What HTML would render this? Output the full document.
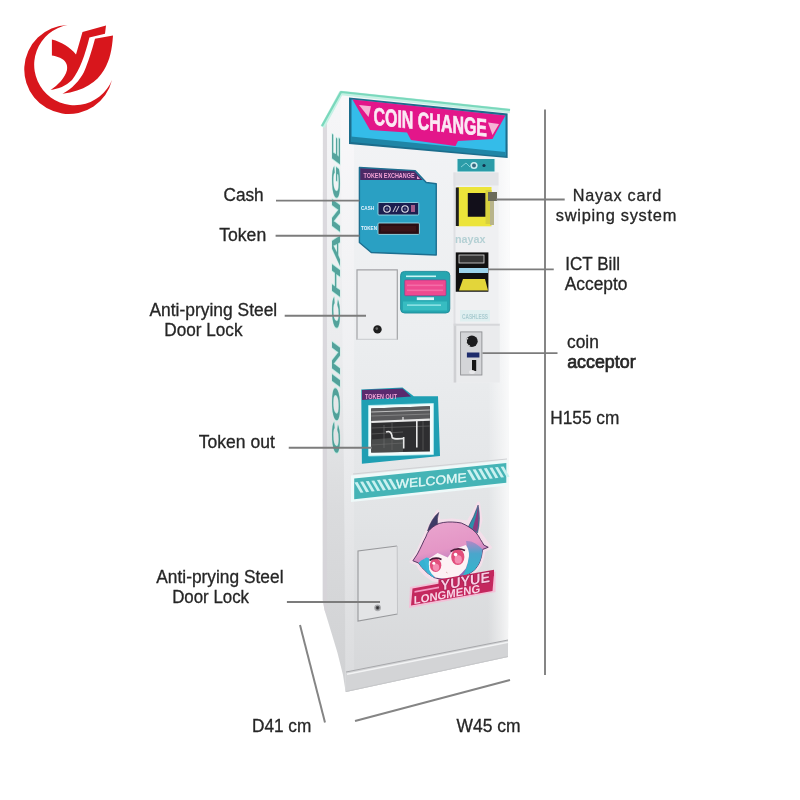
<!DOCTYPE html>
<html><head><meta charset="utf-8">
<style>
html,body{margin:0;padding:0;background:#fff;width:800px;height:800px;overflow:hidden}
svg{display:block;filter:blur(0.45px)}
text{font-family:"Liberation Sans",sans-serif}
</style></head>
<body>
<svg width="800" height="800" viewBox="0 0 800 800">
<defs>
  <linearGradient id="frontG" x1="0" y1="0" x2="0" y2="1">
    <stop offset="0" stop-color="#f3f4f6"/>
    <stop offset="0.4" stop-color="#eceef0"/>
    <stop offset="0.7" stop-color="#e2e4e6"/>
    <stop offset="1" stop-color="#d5d6d8"/>
  </linearGradient>
  <linearGradient id="sideG" x1="0" y1="0" x2="0" y2="1">
    <stop offset="0" stop-color="#f6f6f8"/>
    <stop offset="0.45" stop-color="#eaebed"/>
    <stop offset="0.7" stop-color="#dadbdd"/>
    <stop offset="1" stop-color="#d0d1d3"/>
  </linearGradient>
  <linearGradient id="rightHL" x1="0" y1="0" x2="1" y2="0">
    <stop offset="0" stop-color="#ffffff" stop-opacity="0"/>
    <stop offset="0.6" stop-color="#ffffff" stop-opacity="0.45"/>
    <stop offset="1" stop-color="#ffffff" stop-opacity="0.8"/>
  </linearGradient>
  <linearGradient id="bevelG" x1="0" y1="0" x2="0" y2="1">
    <stop offset="0" stop-color="#f9f8fa"/>
    <stop offset="0.5" stop-color="#eeeff1"/>
    <stop offset="1" stop-color="#dadbdd"/>
  </linearGradient>
  <linearGradient id="hairG" x1="0" y1="0" x2="0" y2="1">
    <stop offset="0" stop-color="#ef9ccb"/>
    <stop offset="0.5" stop-color="#d77bc0"/>
    <stop offset="0.75" stop-color="#5aa9d6"/>
    <stop offset="1" stop-color="#2fb3c4"/>
  </linearGradient>
</defs>

<!-- ===== LOGO ===== -->
<g fill="#d8161c">
  <path d="M67.5,25 A44.5,44.5 0 1 0 112,80 A40.4,40.4 0 1 1 67.5,25 Z"/>
  <path d="M51.9,39.4 C62,42 70,47 76,54.4 L82.5,31.9 L106,25.6 L105,33.8 L89.4,37.5 C85,55 80,70 72,80 C66,86 58,89 50.6,90 C58,85 65,78 67,70 C68,64 65,60 60,57.8 C57,56.5 54,55.8 51.9,55.4 Z"/>
  <path d="M95,38.75 L113,35.6 C112,50 110,60 104,70 C97,82 84,91 62.5,93.75 C72,89 80,80 84,72 C88,63 92,50 95,38.75 Z"/>
</g>

<!-- ===== DIMENSION LINES ===== -->
<g stroke="#858585" stroke-width="2" fill="none">
  <line x1="545" y1="109.5" x2="545" y2="675"/>
  <line x1="300" y1="625" x2="325" y2="722.5"/>
  <line x1="355" y1="721" x2="510" y2="680"/>
</g>

<!-- ===== MACHINE ===== -->
<g id="machine">
  <!-- side face -->
  <polygon points="322.5,127 341,93 347,94 347,692 345.5,691 343,675 337.4,652.5 330.6,630 324.5,610 322.8,600" fill="url(#sideG)"/>
  <polygon points="323,126 327,120 327,615 324.5,610 322.8,600" fill="#d6d3d8" opacity="0.8"/>
  <!-- front face -->
  <polygon points="341,93 510,110.5 508,657 345.5,692" fill="url(#frontG)"/>
  <polygon points="488,109 510,111 508,657 488,661" fill="url(#rightHL)"/>
  <!-- left bevel highlight -->
  <polygon points="340.5,94 354,95.5 354,686 345.5,692 345,530 343,400" fill="url(#bevelG)"/>
  <!-- top rim -->
  <polyline points="322.5,127 341,93 510,111" stroke="#c4f1e4" stroke-width="4.5" stroke-linejoin="round" fill="none"/>
  <polyline points="322,126 341,92 510,110" stroke="#7ad8bc" stroke-width="2.2" stroke-linejoin="round" fill="none"/>
  <!-- side teal text -->
  <text transform="translate(339.5,455) rotate(-90)" font-size="11.5" font-style="italic" font-weight="bold" fill="#218a80" stroke="#a8ecdc" stroke-width="0.5" paint-order="stroke" opacity="0.75" textLength="320" lengthAdjust="spacingAndGlyphs">COIN CHANGE</text>

  <!-- SIGN -->
  <polygon points="349,97.4 507.6,113.4 507.6,158 349,144" fill="#1c6d8c"/>
  <polygon points="351.5,99.5 505.5,115.5 505.5,155.5 351.5,141" fill="#34bce9"/>
  <polygon points="352.5,99.6 505.4,115.5 492.5,139 458,141 455.5,146 411,140 407,132.5 370,130" fill="#e3168a"/>
  <polygon points="351,136.5 505.5,152 505.5,156.5 351,142" fill="#1f85a6"/>
  <polygon points="359,105 371,106.3 368.5,117" fill="#f6b3d6"/>
  <polygon points="488,122.5 499,124 492.5,135" fill="#f6b3d6"/>
  <text transform="translate(373.5,124.5) skewY(5.9)" font-size="24.5" font-weight="bold" fill="#fbe9f4" stroke="#fbe9f4" stroke-width="0.7" textLength="113.5" lengthAdjust="spacingAndGlyphs">COIN CHANGE</text>

  <!-- TOKEN EXCHANGE panel -->
  <polygon points="359.4,167.5 415,170.6 426.25,182.5 436.25,183.75 436.25,255 371.25,252.5 359.4,242.5" fill="#2aa0c3" stroke="#1d6f90" stroke-width="1.4" stroke-linejoin="round"/>
  <polygon points="360.2,168.3 414.6,171.3 422.5,180 360.2,180" fill="#4a2a66"/>
  <text x="363.5" y="178" font-size="7.2" font-weight="bold" fill="#f3a2d6" textLength="51" lengthAdjust="spacingAndGlyphs">TOKEN EXCHANGE</text>
  <polygon points="417,176 420,179 417,179" fill="#f3a2d6"/>
  <rect x="378" y="202.5" width="40.75" height="12.5" rx="1" fill="#1c1f50" stroke="#9adcea" stroke-width="0.9"/>
  <circle cx="387" cy="209" r="3.2" fill="none" stroke="#e6e6ee" stroke-width="1.1"/>
  <circle cx="405" cy="209" r="3.2" fill="none" stroke="#e6e6ee" stroke-width="1.1"/>
  <circle cx="387" cy="209" r="1.2" fill="#555a8a"/>
  <circle cx="405" cy="209" r="1.2" fill="#555a8a"/>
  <line x1="393" y1="212" x2="396" y2="206" stroke="#e6e6ee" stroke-width="0.9"/>
  <line x1="396" y1="212" x2="399" y2="206" stroke="#e6e6ee" stroke-width="0.9"/>
  <rect x="411" y="205" width="4" height="7" fill="#a05a8a"/>
  <rect x="378" y="223" width="41.4" height="11.4" rx="1" fill="#2a0e14" stroke="#9adcea" stroke-width="0.9"/>
  <rect x="381" y="226" width="35" height="5.5" fill="#3a1418"/>
  <text x="361" y="209.5" font-size="4.6" font-weight="bold" fill="#e8f4ff">CASH</text>
  <text x="361" y="230" font-size="4.6" font-weight="bold" fill="#e8f4ff">TOKEN</text>

  <!-- right column: top plate -->
  <rect x="456.5" y="158" width="39" height="14.5" fill="#e9f6f6"/>
  <rect x="457.5" y="159" width="37" height="12.5" fill="#2b9ca8"/>
  <path d="M461,167 L466,163 L470,167" stroke="#8fd6dc" stroke-width="0.9" fill="none"/>
  <circle cx="474" cy="165.5" r="3.6" fill="#cfeef2"/>
  <circle cx="474" cy="165.5" r="2" fill="#3a6a80"/>
  <circle cx="484" cy="165.5" r="1.6" fill="#14304a"/>
  <!-- recess column -->
  <rect x="453.5" y="172.5" width="45" height="210" fill="#eff0f2"/>
  <rect x="453.5" y="172.5" width="45" height="13" fill="#e3e4e7"/>
  <rect x="453.5" y="172.5" width="2" height="210" fill="#dfe0e3"/>
  <!-- card reader -->
  <rect x="457" y="187" width="34.5" height="39.3" fill="#ece43a"/>
  <rect x="455.8" y="187.5" width="3" height="38.5" fill="#1e1e1e"/>
  <rect x="467.8" y="193" width="17.8" height="23.75" fill="#120f1a"/>
  <rect x="485.6" y="190" width="6" height="34" fill="#d8d040"/>
  <rect x="488" y="192" width="9" height="9" fill="#6a6a5a"/>
  <rect x="490" y="201" width="4" height="24" fill="#b8b48a"/>
  <!-- nayax -->
  <text x="455" y="243" font-size="10" font-weight="bold" fill="#b4d0d4" textLength="30.5" lengthAdjust="spacingAndGlyphs">nayax</text>
  <!-- bill acceptor -->
  <rect x="455.75" y="252.4" width="32.65" height="39.35" fill="#111"/>
  <rect x="459" y="255" width="25" height="8" fill="#333" stroke="#ddd" stroke-width="0.8"/>
  <rect x="459" y="268" width="29" height="5" fill="#9cd4ec"/>
  <polygon points="459,290.5 463,279 485,279 488,290.5" fill="#e3d53a"/>
  <!-- small label -->
  <rect x="460" y="310" width="30" height="11.5" fill="#dfeff0"/>
  <text x="462" y="319" font-size="7.5" font-weight="bold" fill="#a9cbd0" textLength="26" lengthAdjust="spacingAndGlyphs">CASHLESS</text>
  <!-- coin acceptor recess -->
  <rect x="453.75" y="323.75" width="46" height="58.75" fill="#eaebed"/>
  <rect x="453.75" y="323.75" width="2.5" height="58.75" fill="#cfd0d3"/>
  <rect x="453.75" y="323.75" width="46" height="2" fill="#d6d7da"/>
  <rect x="460.6" y="331.9" width="21.3" height="43.1" fill="#d4d5d8" stroke="#8e8f93" stroke-width="0.9"/>
  <circle cx="471.9" cy="341.25" r="5.8" fill="#1c1c1e"/>
  <path d="M468,338 A4.5,4.5 0 0 0 470,346" stroke="#e8e8e8" stroke-width="1" fill="none"/>
  <rect x="466.9" y="352.5" width="12.5" height="5" fill="#1e2c6c"/>
  <rect x="472" y="360" width="4.2" height="11" fill="#151515"/>
  <ellipse cx="472" cy="372" rx="3" ry="2" fill="#e8e8ea"/>

  <!-- DOOR 1 -->
  <rect x="356.9" y="269.6" width="40.5" height="70.1" fill="#ecedef"/>
  <polyline points="357,339.7 357,269.8 397.3,269.8 397.3,339.7" fill="none" stroke="#a2a3a6" stroke-width="1.2"/>
  <line x1="357" y1="339.3" x2="397.3" y2="339.3" stroke="#c9cacd" stroke-width="1"/>
  <circle cx="377.5" cy="329.4" r="4.2" fill="#1e1e1e"/>
  <circle cx="376.8" cy="328.6" r="1.3" fill="#666"/>

  <!-- sticker -->
  <rect x="400.6" y="271.4" width="49.2" height="41.6" rx="4" fill="#26a6b0" stroke="#1c8a98" stroke-width="0.9"/>
  <rect x="404.7" y="280" width="41.3" height="15.7" rx="1" fill="#ee4a90" stroke="#8a3a8a" stroke-width="0.6"/>
  <rect x="407" y="284.5" width="36" height="1.6" fill="#f77ab0" opacity="0.7"/>
  <rect x="407" y="289.5" width="36" height="1.6" fill="#f77ab0" opacity="0.7"/>
  <rect x="406" y="275.5" width="30" height="1.6" fill="#c8f4f4"/>
  <rect x="416.8" y="297.3" width="17.2" height="2.8" fill="#d8f6f8"/>
  <rect x="403" y="301.5" width="44" height="9" fill="#3cc2c6" opacity="0.8"/>
  <rect x="407" y="304.5" width="34" height="1.2" fill="#a8eef0"/>

  <!-- TOKEN OUT panel -->
  <polygon points="361.25,389.4 402.5,387.5 413.75,396.25 438,396.25 440,456 361.9,463.75" fill="#1f9fb3"/>
  <polygon points="362,390 402.5,388.5 411,396.5 362,400" fill="#5a2a6e"/>
  <text x="365" y="398.5" font-size="7" font-weight="bold" fill="#f0a6d8" textLength="32" lengthAdjust="spacingAndGlyphs">TOKEN OUT</text>
  <polygon points="368.6,405.5 433.4,403.5 433.4,454.5 368.6,456" fill="#f2fbfb" stroke="#bdeff2" stroke-width="0.8"/>
  <polygon points="371.2,408.5 429.9,406.3 429.9,451.4 371.2,452.6" fill="#2e2e30"/>
  <polygon points="371.2,408.5 429.9,406.3 429.9,419.5 371.2,421.5" fill="#5a5a5c"/>
  <polygon points="371.2,439.5 403,437 403,452 371.2,452.6" fill="#4a4c4c"/>
  <g stroke="#6a6a6a" stroke-width="0.6"><line x1="371.2" y1="428" x2="429.9" y2="426"/><line x1="371.2" y1="434" x2="403" y2="432"/><line x1="371.2" y1="445" x2="403" y2="443"/><line x1="392" y1="423" x2="392" y2="450"/><line x1="423" y1="421" x2="423" y2="450"/></g>
  <g stroke="#e8e8e8" fill="none">
    <line x1="371.2" y1="412" x2="429.9" y2="410" stroke-width="0.7"/>
    <line x1="371.2" y1="416" x2="429.9" y2="414" stroke-width="0.6" stroke="#9a9a9a"/>
    <line x1="371.2" y1="422" x2="429.9" y2="419.6" stroke-width="2.2"/>
    <line x1="416.8" y1="419.6" x2="416.8" y2="447.5" stroke-width="1.6"/>
    <line x1="403.7" y1="437" x2="403.7" y2="448.5" stroke-width="1.6"/>
    <line x1="384" y1="425" x2="384" y2="448" stroke-width="0.5" stroke="#7a7a7a"/>
    <path d="M386,432 Q391,430 392,436 Q391,440 403.7,438.5" stroke-width="1.6"/>
    <line x1="403" y1="417" x2="403" y2="421" stroke-width="1.2"/>
  </g>

  <!-- seam above welcome -->
  <polyline points="353,474 507,459" stroke="#d0d1d4" stroke-width="1" fill="none"/>
  <!-- WELCOME band -->
  <polygon points="351,475.5 507.5,460 507.5,485.5 351,502" fill="#eef9f9"/>
  <polygon points="354.2,478.4 506.3,463.1 506.3,482.8 354.2,499.2" fill="#45b4b6"/>
  <g fill="#c9f1f0"><polygon points="354.5,482.4 357.5,482.1 363.5,492.4 360.5,492.8" /><polygon points="360.1,481.8 363.1,481.5 369.1,491.8 366.1,492.2" /><polygon points="365.7,481.2 368.7,480.9 374.7,491.2 371.7,491.6" /><polygon points="371.3,480.7 374.3,480.4 380.3,490.7 377.3,491.1" /><polygon points="376.9,480.1 379.9,479.8 385.9,490.1 382.9,490.5" /><polygon points="382.5,479.6 385.5,479.3 391.5,489.6 388.5,490.0" /><polygon points="388.1,479.0 391.1,478.7 397.1,489.0 394.1,489.4" /><polygon points="467.0,470.1 470.0,469.8 476.0,480.1 473.0,480.5" /><polygon points="472.6,469.5 475.6,469.2 481.6,479.5 478.6,479.9" /><polygon points="478.2,468.9 481.2,468.6 487.2,478.9 484.2,479.3" /><polygon points="483.8,468.4 486.8,468.1 492.8,478.4 489.8,478.8" /><polygon points="489.4,467.8 492.4,467.5 498.4,477.8 495.4,478.2" /><polygon points="495.0,467.2 498.0,466.9 504.0,477.2 501.0,477.6" /><polygon points="500.6,466.7 503.6,466.4 509.6,476.7 506.6,477.1" /></g>
  <text transform="translate(396,488.6) skewY(-5.7)" font-size="12.5" fill="#e2f8f6" stroke="#e2f8f6" stroke-width="0.35" textLength="70.5" lengthAdjust="spacingAndGlyphs">WELCOME</text>

  <!-- DOOR 2 -->
  <polygon points="358,551 397,546 397.5,614 358,621" fill="#e3e4e6"/>
  <polyline points="397,546 358,551 358,621 397.5,614" fill="none" stroke="#98999c" stroke-width="1.1"/>
  <line x1="397.2" y1="546" x2="397.5" y2="614" stroke="#c4c5c8" stroke-width="1"/>
  <circle cx="377.6" cy="607.8" r="3.4" fill="#a9aaad"/>
  <circle cx="377.6" cy="607.8" r="2" fill="#55565a"/>
  <circle cx="377.6" cy="607.8" r="0.9" fill="#2a2a2a"/>

  <!-- kick plate -->
  <polygon points="346,672 508,640 508,657 346,692" fill="#d3d4d6"/>
  <polyline points="346,672 508,640" stroke="#a8a9ac" stroke-width="1" fill="none"/>
  <polyline points="347,674.2 508,642.2" stroke="#f2f3f4" stroke-width="1.4" fill="none"/>
  <polyline points="346,691.5 508,656.5" stroke="#c6c7c9" stroke-width="1" fill="none"/>

  <!-- CHARACTER -->
  <g>
    <defs>
      <linearGradient id="hairP" x1="0" y1="0" x2="0.3" y2="1">
        <stop offset="0" stop-color="#eaa6cf"/>
        <stop offset="0.55" stop-color="#e496c6"/>
        <stop offset="0.8" stop-color="#b97cc0"/>
        <stop offset="1" stop-color="#8a6ab8"/>
      </linearGradient>
      <linearGradient id="tealR" x1="0" y1="0" x2="0" y2="1">
        <stop offset="0" stop-color="#b486c6"/>
        <stop offset="0.35" stop-color="#4aa6cc"/>
        <stop offset="1" stop-color="#2fb8cc"/>
      </linearGradient>
    </defs>
    <!-- halo -->
    <path d="M411,561.5 L417,553 L424,537 L428,529 L437.6,511 L439,521 L452,520 L468,522 L478.5,503 L481,520 L478,531 L484,539 L490.5,547.5 L484,551 L482.5,558 L480,565 L475,571 L468,576 L461,580 L445,581 L433,580 L426,575 L420,569 L417.5,564 Z" fill="#f4dfea" stroke="#f4dfea" stroke-width="3" stroke-linejoin="round"/>
    <!-- left horn -->
    <path d="M427.5,531 Q431,519 438.75,512.4 Q436.5,519 437.8,526 Z" fill="#3e3a66" stroke="#2a2448" stroke-width="0.5"/>
    <!-- right horn -->
    <path d="M468,527.5 Q474,517 478.1,505 Q481,520 477.5,533 Z" fill="#2c8fa8" stroke="#3a2a5a" stroke-width="0.5"/>
    <path d="M472.5,529 Q476,518 478.1,506 Q479.5,521 477,532 Z" fill="#8a3a7e"/>
    <!-- hair main -->
    <path d="M412.9,560.75 L417.4,554 Q420,549 421.9,545 Q424,540 425.8,537 Q427,533 429.2,530.4 Q432,527 435.4,525.3 Q439,523 443.25,522.5 Q448,521.8 452.25,522 Q457,522.2 461.25,523 Q465,524.5 469,527 Q473,529.5 475.9,532.6 Q478.5,535.5 480.4,539.4 Q482.5,542.5 483.75,545 L488.25,547.25 L482.6,549.5 Q482,553 481.5,556.25 Q480.5,560 479.25,563 Q477.5,566.5 474.75,569.75 Q471.5,572.5 468,574.25 Q465,576 461.25,577.6 Q457,578.5 452.25,578.75 L442,579.3 Q438,578.8 434.25,577.6 Q430.5,575.5 427.5,573 Q424.5,570 421.9,567.5 Q420,565 418.5,563 Z" fill="url(#hairP)" stroke="#4a2a58" stroke-width="0.9"/>
    <!-- right teal -->
    <path d="M466,541 Q474,540 482.6,549.5 Q482,553 481.5,556.25 Q480.5,560 479.25,563 Q477.5,566.5 474.75,569.75 Q471.5,572.5 468,574.25 Q465,576 461.5,577.4 Q468,568 468.5,556 Z" fill="url(#tealR)"/>
    <!-- left teal -->
    <path d="M418.5,563 Q421,560 424,559 Q428,566 431,572 Q433,576 435,578 Q430.5,575.5 427.5,573 Q424.5,570 421.9,567.5 Q420,565 418.5,563 Z" fill="#36b2d2"/>
    <path d="M424,559 Q427,556 429.5,559 L434,577.8 Q430.5,575.5 427.5,573 Z" fill="#3cb6d6"/>
    <!-- face -->
    <path d="M429.2,558.5 L437.6,552.9 L447.75,557.4 L453.4,549.5 L465.75,545 Q469.5,550 469,556 Q468,563 465.75,568.6 Q462,573.5 457.9,576.5 Q451,578.7 445.5,578.75 Q440,578.5 435.4,577.6 Q431,574 429.2,569.75 Q428.5,563 429.2,558.5 Z" fill="#fcf2f5"/>
    <!-- eyes -->
    <ellipse cx="435.6" cy="565.3" rx="5.7" ry="6.8" fill="#e24e7c"/>
    <ellipse cx="457.8" cy="557" rx="6.6" ry="8" fill="#e24e7c"/>
    <ellipse cx="436" cy="567.3" rx="3.2" ry="3.6" fill="#f48db2"/>
    <ellipse cx="458.2" cy="559.4" rx="3.6" ry="4.2" fill="#f48db2"/>
    <path d="M429.5,560.5 Q435,556.5 441.5,559.5" stroke="#4a1838" stroke-width="1.7" fill="none"/>
    <path d="M450.5,551.5 Q457,547 465,550.5" stroke="#4a1838" stroke-width="1.7" fill="none"/>
    <circle cx="433.8" cy="563.2" r="1.5" fill="#fff"/>
    <circle cx="455.6" cy="554.6" r="1.8" fill="#fff"/>
    <path d="M446,572 L447.5,573" stroke="#c88" stroke-width="0.6"/>
  </g>
  <!-- YUYUE LONGMENG logo -->
  <polygon points="410,587 495.5,571.5 495.5,592 409,608" fill="#f5bcd6" opacity="0.9"/>
  <polygon points="412.5,588.5 494,573.5 492.5,591 411,605.5" fill="#c4285e"/>
  <polygon points="438.5,579.5 494,569.8 494,576 438.5,586" fill="#c4285e"/>
  <polygon points="414.5,591 439,586.5 439,588.3 414.5,592.8" fill="#f49ac4"/>
  <text transform="translate(440.6,590.5) skewY(-10.1)" font-size="14.5" font-weight="bold" fill="#f8cce2" stroke="#9a1a4c" stroke-width="1.2" paint-order="stroke" textLength="49.4" lengthAdjust="spacingAndGlyphs">YUYUE</text>
  <text transform="translate(413.8,604.3) skewY(-10.1)" font-size="11.5" font-weight="bold" fill="#f8d4e6" textLength="66.4" lengthAdjust="spacingAndGlyphs">LONGMENG</text>
</g>

<!-- ===== LEADER LINES ===== -->
<g stroke="#7c7c7c" stroke-width="1.9" fill="none">
  <line x1="276" y1="200.6" x2="359.4" y2="200.6"/>
  <line x1="275.6" y1="235.8" x2="359.4" y2="235.8"/>
  <line x1="284.7" y1="315.7" x2="366" y2="315.7"/>
  <line x1="288.75" y1="447.7" x2="372" y2="447.7"/>
  <line x1="286.9" y1="602" x2="380" y2="602"/>
  <line x1="496" y1="199.5" x2="564.7" y2="199.5"/>
  <line x1="488" y1="269.4" x2="553.75" y2="269.4"/>
  <line x1="482.5" y1="353.1" x2="557.5" y2="353.1"/>
</g>

<!-- ===== LABELS ===== -->
<g fill="#262626" stroke="#262626" stroke-width="0.3" font-size="17.5">
  <text x="223.5" y="201.25" textLength="40.2" lengthAdjust="spacingAndGlyphs">Cash</text>
  <text x="219.2" y="240.6" textLength="47" lengthAdjust="spacingAndGlyphs">Token</text>
  <text x="149.5" y="316" textLength="127.7" lengthAdjust="spacingAndGlyphs">Anti-prying Steel</text>
  <text x="164.3" y="336.25" textLength="78.2" lengthAdjust="spacingAndGlyphs">Door Lock</text>
  <text x="198.8" y="447.9" textLength="76" lengthAdjust="spacingAndGlyphs">Token out</text>
  <text x="156.3" y="582.5" textLength="127.2" lengthAdjust="spacingAndGlyphs">Anti-prying Steel</text>
  <text x="172.2" y="602.75" textLength="76.8" lengthAdjust="spacingAndGlyphs">Door Lock</text>
  <text x="572.8" y="201.3" font-size="16.2" textLength="88.5" lengthAdjust="spacing">Nayax card</text>
  <text x="555.8" y="220.5" font-size="16.4" textLength="120.5" lengthAdjust="spacing">swiping system</text>
  <text x="565.3" y="270" textLength="54.7" lengthAdjust="spacingAndGlyphs">ICT Bill</text>
  <text x="564.7" y="290" textLength="62.8" lengthAdjust="spacingAndGlyphs">Accepto</text>
  <text x="567" y="348.1" textLength="31.8" lengthAdjust="spacingAndGlyphs">coin</text>
  <text x="567.2" y="367.5" textLength="68.4" lengthAdjust="spacingAndGlyphs" stroke-width="0.7">acceptor</text>
  <text x="550.3" y="423.75" textLength="69.1" lengthAdjust="spacingAndGlyphs">H155 cm</text>
  <text x="252" y="732.25" textLength="59.3" lengthAdjust="spacingAndGlyphs">D41 cm</text>
  <text x="456.6" y="731.9" textLength="64" lengthAdjust="spacingAndGlyphs">W45 cm</text>
</g>
</svg>
</body></html>
